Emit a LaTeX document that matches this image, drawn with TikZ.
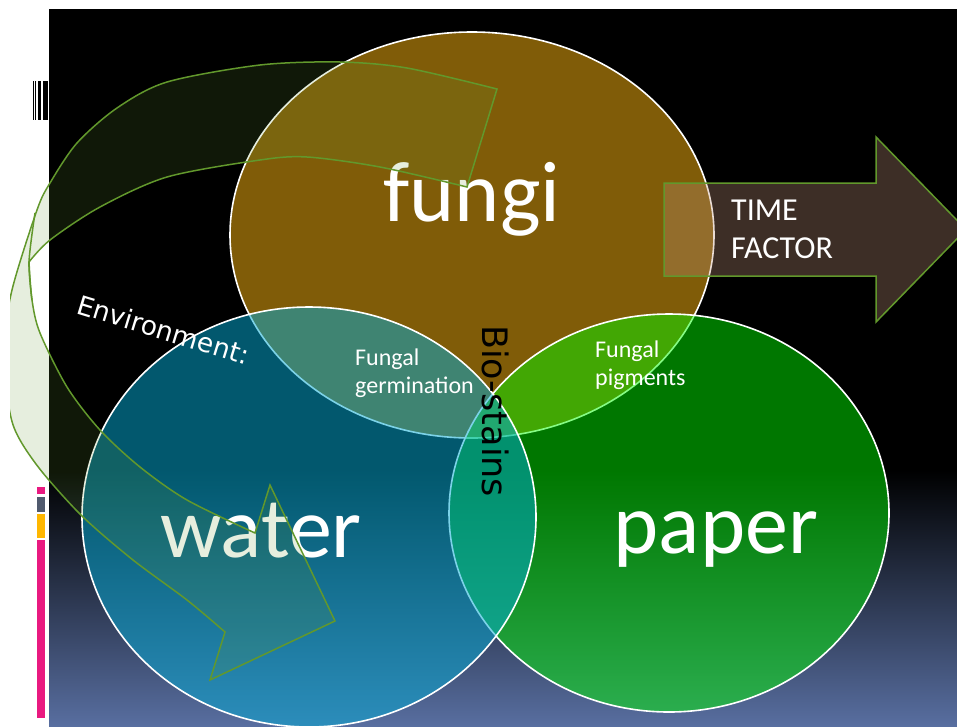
\documentclass[tikz,border=0pt]{standalone}
\usepackage{fontspec}
\setmainfont{Carlito}
\newfontfamily\tagfont{DejaVu Sans}
\usetikzlibrary{positioning}
\definecolor{vnfungi}{RGB}{128,92,8}
\definecolor{vnpaper}{RGB}{0,250,0}
\definecolor{vnwater}{RGB}{4,170,212}
\definecolor{vnleaf}{RGB}{98,152,44}
\definecolor{vnleaffill}{RGB}{100,150,50}
\definecolor{vnclay}{RGB}{190,145,120}
\definecolor{vnslate}{RGB}{88,110,160}
\definecolor{vnpink}{RGB}{233,25,128}
\definecolor{vngray}{RGB}{80,90,110}
\definecolor{vngold}{RGB}{255,183,0}

\begin{document}
\begin{tikzpicture}[x=1pt, y=-1pt,
  every node/.style={text=white, inner sep=0pt},
  set/.style={draw=white, line width=1.6pt},
  big/.style={font=\fontsize{86}{100}\selectfont, anchor=base},
  small/.style={font=\fontsize{24}{28}\selectfont, align=left, anchor=base west},
  tag/.style={font=\tagfont\fontsize{26.5}{30}\selectfont, anchor=base west},
  band/.style={draw=vnleaf, line width=1.5pt, fill=vnleaffill, fill opacity=0.16},
  block/.style={draw=vnleaf, line width=1.5pt, fill=vnclay, fill opacity=0.32}
]
  \useasboundingbox (0,0) rectangle (957,726);

  % slide
  \fill[white] (0,0) rectangle (957,726);
  \fill[black] (49,9) rectangle (957,470);
  \shade[top color=black, bottom color=vnslate] (49,470) rectangle (957,726);
  \foreach \xa/\xb in {33/34, 35/36, 38/41, 43/48}
    \fill[black] (\xa,81) rectangle (\xb,120);
  \fill[vnpink] (37,487) rectangle (45,494);
  \fill[vngray] (37,497) rectangle (45,512);
  \fill[vngold] (37,514) rectangle (45,538);
  \fill[vnpink] (37,540) rectangle (45,718);

  % sets
  \path[set, fill=vnfungi] (472,235) ellipse [x radius=242pt, y radius=203pt];
  \path[set, fill=vnpaper, fill opacity=0.48] (669,513) ellipse [x radius=220pt, y radius=199pt];
  \path[set, fill=vnwater, fill opacity=0.52] (309,517) ellipse [x radius=227pt, y radius=210pt];

  % labels (base of a two line node = its last line)
  \node[big] (fungi) at (472,221) {fungi};
  \node[big] (water) at (261,557) {water};
  \node[big] (paper) at (716,553) {paper};
  \node[small] (germ) at (355,393) {Fungal\\germination};
  \node[small] (pigm) at (595,385) {Fungal\\pigments};
  \node[tag, rotate=-17] (env) at (75,313) {Environment:};
  \node[tag, rotate=-90, text=black, font=\tagfont\fontsize{35}{38}\selectfont] (stain) at (482,325) {Bio-stains};

  % time arrow
  \begin{scope}
    \clip (49,9) rectangle (957,726);
    \path[block] (664,183) -- (876,183) -- (876,137) -- (966,229.5) -- (876,322) -- (876,276) -- (664,276) -- cycle;
  \end{scope}
  \node[small, font=\fontsize{32}{38}\selectfont] (time) at (731,258) {TIME\\FACTOR};

  % environment arrow
  \begin{scope}
    \clip (10,0) rectangle (957,726);
    \path[band] (497,89) -- (467,187)
      -- plot[smooth] coordinates {(467,187) (380,167) (307,157) (260,160) (167,177) (100,207) (50,240) (29,262)}
      -- plot[smooth] coordinates {(29,262) (32,300) (40,333) (67,387) (100,430) (140,467) (187,500) (255,533)}
      -- (270,485) -- (335,621) -- (210,680) -- (225,632)
      -- plot[smooth] coordinates {(225,632) (187,600) (133,560) (83,517) (43,473) (20,440) (10,413) (3,352) (12,290) (37,210) (50,183) (77,143) (117,108) (167,82) (260,65) (340,62) (407,68) (497,89)}
      -- cycle;
    \draw[vnleaf, line width=1.5pt] plot[smooth] coordinates {(32,300) (29,262) (35,213)};
  \end{scope}
\end{tikzpicture}
\end{document}
